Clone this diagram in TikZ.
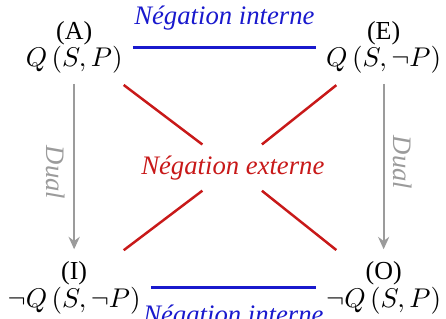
\documentclass[tikz,border=0pt]{standalone}
\usepackage{fontspec}
\setmainfont{Liberation Serif}
\usepackage{tikz}
\usetikzlibrary{arrows.meta, positioning}
\definecolor{nblue}{RGB}{25,25,205}
\definecolor{nred}{RGB}{200,25,25}
\definecolor{ngray}{RGB}{155,155,155}

\begin{document}
\begin{tikzpicture}[
  font=\fontsize{10.5}{12.6}\selectfont,
  node distance=97.2pt and 125.2pt,
  crn/.style={align=center,inner sep=2pt},
  lbl/.style={font=\fontsize{10.8}{13}\selectfont\itshape},
  int/.style={draw=nblue,line width=1.2pt,shorten <=2pt,shorten >=2pt},
  ext/.style={draw=nred,line width=1pt,shorten <=4pt,shorten >=1.5pt},
  arr/.style={-{Stealth[length=5pt,width=4.5pt]},draw=ngray,line width=0.8pt,
              shorten <=2pt,shorten >=2.8pt}
]
  \node[crn] (A) {(A)\\[-1.5pt]$Q\,(S,P)$};
  \node[crn,on grid,right=of A] (E) {(E)\\[-1.5pt]$Q\,(S,\neg P)$};
  \node[crn,on grid,below=of A] (I) {(I)\\[-1.5pt]$\neg Q\,(S,\neg P)$};
  \node[crn,on grid,below=of E] (O) {(O)\\[-1.5pt]$\neg Q\,(S,P)$};
  \node[lbl,text=nred,on grid,below right=48.6pt and 64.2pt of A] (mid)
    {Négation externe};
  \useasboundingbox ([xshift=-30pt,yshift=19.2pt]A.center)
    rectangle ([xshift=148.4pt,yshift=-109.6pt]A.center);

  \draw[int] (A) -- (E) node[lbl,midway,above=3pt,text=nblue] {Négation interne};
  \draw[int] (I) -- (O) node[lbl,midway,below=3pt,text=nblue] {Négation interne};
  \foreach \c in {A,E,I,O}
    \draw[ext] (\c) -- (mid);
  \draw[arr] (A) -- (I) node[lbl,midway,rotate=-90,below=2pt,text=ngray] {Dual};
  \draw[arr] (E) -- (O) node[lbl,midway,rotate=-90,above=2pt,text=ngray] {Dual};
\end{tikzpicture}
\end{document}
